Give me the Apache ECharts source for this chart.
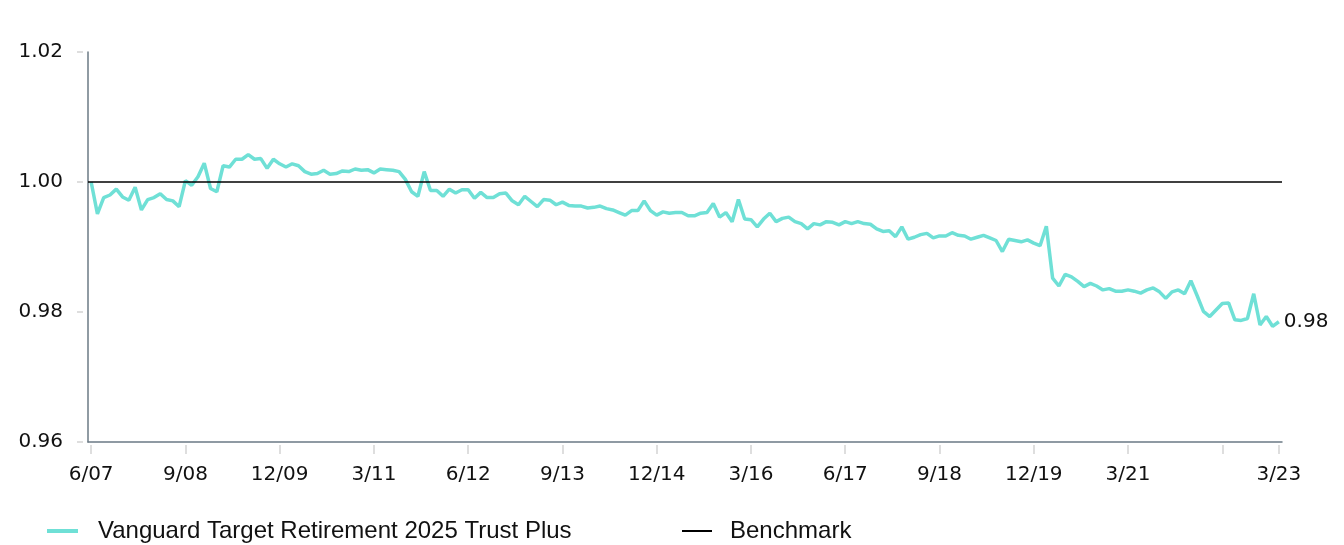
<!DOCTYPE html>
<html>
<head>
<meta charset="utf-8">
<title>Vanguard Target Retirement 2025 Trust Plus</title>
<script src="https://cdn.jsdelivr.net/npm/echarts@6.0.0/dist/echarts.min.js"></script>
<style>
  html, body { margin: 0; padding: 0; background: #fff; }
  #main { width: 1344px; height: 545px; }
</style>
</head>
<body>
<div id="main"></div>
<script>
// monthly values, 6/07 .. 3/23
var fundName = "Vanguard Target Retirement 2025 Trust Plus";
var benchName = "Benchmark";
var benchValue = 1.0;
var startMonth = 6, startYear = 7;

var fundValues = [
  1.0000, 0.9951, 0.9976, 0.9980, 0.9989, 0.9977, 0.9972, 0.9992, 0.9957, 0.9973,
  0.9976, 0.9982, 0.9973, 0.9971, 0.9962, 1.0002, 0.9995, 1.0008, 1.0029, 0.9990,
  0.9985, 1.0025, 1.0023, 1.0035, 1.0035, 1.0042, 1.0035, 1.0036, 1.0021, 1.0035,
  1.0028, 1.0023, 1.0028, 1.0025, 1.0016, 1.0012, 1.0013, 1.0018, 1.0012, 1.0013,
  1.0017, 1.0016, 1.0020, 1.0018, 1.0019, 1.0014, 1.0020, 1.0019, 1.0018, 1.0016,
  1.0004, 0.9985, 0.9978, 1.0016, 0.9987, 0.9987, 0.9978, 0.9989, 0.9983, 0.9988,
  0.9988, 0.9975, 0.9984, 0.9976, 0.9976, 0.9982, 0.9983, 0.9971, 0.9965, 0.9978,
  0.9970, 0.9962, 0.9973, 0.9972, 0.9965, 0.9969, 0.9964, 0.9963, 0.9963, 0.9960,
  0.9961, 0.9963, 0.9959, 0.9957, 0.9953, 0.9949, 0.9956, 0.9956, 0.9971, 0.9956,
  0.9949, 0.9954, 0.9952, 0.9953, 0.9953, 0.9948, 0.9948, 0.9952, 0.9953, 0.9967,
  0.9946, 0.9953, 0.9939, 0.9973, 0.9943, 0.9942, 0.9931, 0.9943, 0.9952, 0.9939,
  0.9944, 0.9946, 0.9939, 0.9936, 0.9928, 0.9936, 0.9934, 0.9939, 0.9938, 0.9934,
  0.9939, 0.9936, 0.9939, 0.9936, 0.9935, 0.9928, 0.9924, 0.9925, 0.9916, 0.9931,
  0.9912, 0.9915, 0.9919, 0.9921, 0.9914, 0.9917, 0.9917, 0.9922, 0.9918, 0.9917,
  0.9912, 0.9915, 0.9918, 0.9914, 0.9910, 0.9893, 0.9912, 0.9910, 0.9908, 0.9911,
  0.9906, 0.9902, 0.9932, 0.9852, 0.9840, 0.9858, 0.9854, 0.9847, 0.9839, 0.9844,
  0.9840, 0.9834, 0.9836, 0.9832, 0.9832, 0.9834, 0.9832, 0.9829, 0.9834, 0.9837,
  0.9831, 0.9821, 0.9831, 0.9834, 0.9828, 0.9848, 0.9825, 0.9801, 0.9793, 0.9803,
  0.9813, 0.9814, 0.9788, 0.9787, 0.9790, 0.9828, 0.9780, 0.9793, 0.9778, 0.9785
];

var yTicks = [0.96, 0.98, 1.00, 1.02];
var tickStep = 15;      // a tick every 15 months
var lastLabelIdx = 165; // 3/21, the 6/22 tick has no label

// month labels like "6/07"
var months = [];
var m = startMonth, y = startYear;
for (var k = 0; k < fundValues.length; k++) {
  months.push(m + "/" + (y < 10 ? "0" + y : y));
  m++;
  if (m > 12) { m = 1; y++; }
}
var lastIdx = months.length - 1;

var axisFont = "'DejaVu Sans', Verdana, sans-serif";
var legendFont = "'Liberation Sans', Arial, Helvetica, sans-serif";
var textColor = "#111";

var myChart = echarts.init(document.getElementById("main"));
myChart.setOption({
  animation: false,
  backgroundColor: "#fff",
  textStyle: { fontFamily: legendFont },
  grid: { left: 88, right: 62, top: 52, bottom: 103, containLabel: false },
  legend: [
    {
      data: [{ name: fundName, icon: "rect" }],
      left: 42, top: 514,
      itemWidth: 31, itemHeight: 4,
      selectedMode: false,
      textStyle: { fontSize: 24, color: textColor, fontFamily: legendFont, padding: [0, 0, 0, 15] }
    },
    {
      data: [{ name: benchName, icon: "rect" }],
      left: 677, top: 514,
      itemWidth: 30, itemHeight: 2,
      selectedMode: false,
      textStyle: { fontSize: 24, color: textColor, fontFamily: legendFont, padding: [0, 0, 0, 13] }
    }
  ],
  xAxis: [
    {
      // axis line only
      type: "category",
      data: months,
      boundaryGap: true,
      axisLine: { show: true, onZero: false, lineStyle: { color: "#6b7a85", width: 1.5 } },
      axisTick: { show: false },
      axisLabel: { show: false },
      splitLine: { show: false }
    },
    {
      // ticks + labels, a bit below the line
      type: "category",
      data: months,
      boundaryGap: true,
      position: "bottom",
      offset: 3,
      axisLine: { show: false, onZero: false },
      axisTick: {
        show: true,
        alignWithLabel: true,
        length: 9,
        interval: function (i) { return i % tickStep === 0 || i === lastIdx; },
        lineStyle: { color: "#d3d3d3", width: 1.5 }
      },
      axisLabel: {
        margin: 20,
        fontSize: 20,
        color: textColor,
        fontFamily: axisFont,
        interval: function (i) { return (i % tickStep === 0 && i <= lastLabelIdx) || i === lastIdx; }
      },
      splitLine: { show: false }
    }
  ],
  yAxis: [
    {
      type: "value",
      min: yTicks[0], max: yTicks[yTicks.length - 1], interval: 0.02,
      axisLine: { show: true, lineStyle: { color: "#6b7a85", width: 1.5 } },
      axisTick: { show: false },
      axisLabel: { show: false },
      splitLine: { show: false }
    },
    {
      type: "value",
      position: "left",
      offset: 5,
      min: yTicks[0], max: yTicks[yTicks.length - 1], interval: 0.02,
      axisLine: { show: false },
      axisTick: { show: true, length: 6, lineStyle: { color: "#d3d3d3", width: 1.5 } },
      axisLabel: {
        margin: 20,
        fontSize: 20,
        color: textColor,
        fontFamily: axisFont,
        formatter: function (v) { return v.toFixed(2); }
      },
      splitLine: { show: false }
    }
  ],
  series: [
    {
      name: benchName,
      type: "line",
      data: [],
      color: "#000",
      lineStyle: { color: "#000", width: 1.5 },
      markLine: {
        silent: true,
        symbol: ["none", "none"],
        label: { show: false },
        lineStyle: { color: "#000", width: 1.5, type: "solid" },
        data: [{ yAxis: benchValue }]
      }
    },
    {
      name: fundName,
      type: "line",
      data: fundValues,
      color: "#6fe0d6",
      showSymbol: false,
      lineStyle: { color: "#6fe0d6", width: 3.5 },
      z: 3,
      endLabel: {
        show: true,
        distance: 5,
        fontSize: 20,
        color: textColor,
        fontFamily: axisFont,
        formatter: function (p) { return p.value.toFixed(2); }
      }
    }
  ]
});
</script>
</body>
</html>
